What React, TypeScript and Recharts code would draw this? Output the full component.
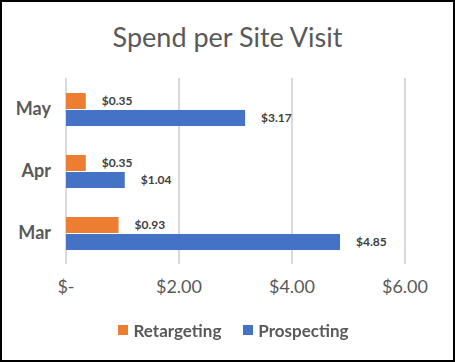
import React from 'react';
import { BarChart, Bar, XAxis, YAxis, CartesianGrid, Legend, LabelList } from 'recharts';

const months = ['May', 'Apr', 'Mar'];
const retargeting = [0.35, 0.35, 0.93];
const prospecting = [3.17, 1.04, 4.85];
const xTicks = [0, 2, 4, 6];
const seriesNames = ['Retargeting', 'Prospecting'];
const colors = ['#ED7D31', '#4472C4'];

const data = months.map((m, i) => ({ month: m, Retargeting: retargeting[i], Prospecting: prospecting[i] }));

const fmtTick = (v: number) => (v === 0 ? '$-' : `$${v.toFixed(2)}`);
const fmtLabel = (v: any) => `$${Number(v).toFixed(2)}`;

const FONT = 'Lato, "Open Sans", sans-serif';

const LegendContent = () => (
  <div style={{ width: 467, display: 'flex', justifyContent: 'center', alignItems: 'center', fontFamily: FONT, fontWeight: 700, fontSize: 17, color: '#595959', height: 30 }}>
    {seriesNames.map((n, i) => (
      <div key={n} style={{ display: 'flex', alignItems: 'center', marginRight: i === 0 ? 22 : 0 }}>
        <div style={{ width: 10, height: 10, background: colors[i], marginRight: 5 }} />
        <span>{n}</span>
      </div>
    ))}
  </div>
);

export default function App() {
  return (
    <div style={{ position: 'fixed', left: 0, top: 0, width: 455, height: 362, boxSizing: 'border-box', border: '2px solid #000', background: '#fff' }}>
      <div style={{ position: 'absolute', left: 0, top: 18, width: 451, textAlign: 'center', fontFamily: FONT, fontSize: 27, color: '#595959' }}>
        Spend per Site Visit
      </div>
      <div style={{ position: 'absolute', left: -2, top: -2 }}>
        <BarChart
          width={455}
          height={362}
          data={data}
          layout="vertical"
          margin={{ top: 78, right: 50, bottom: 17, left: 0 }}
          barGap={1}
          barSize={16}
        >
          <CartesianGrid horizontal={false} stroke="#D9D9D9" strokeWidth={2} />
          <XAxis
            type="number"
            domain={[0, 6]}
            ticks={xTicks}
            tickFormatter={fmtTick}
            axisLine={false}
            tickLine={false}
            tickSize={0}
            tickMargin={16}
            height={51}
            tick={{ fill: '#595959', fontSize: 18, fontFamily: FONT }}
          />
          <YAxis
            type="category"
            dataKey="month"
            width={66}
            axisLine={false}
            tickLine={false}
            tickSize={0}
            tickMargin={15}
            tick={{ fill: '#595959', fontSize: 18, fontWeight: 700, fontFamily: FONT }}
          />
          <Legend verticalAlign="bottom" height={30} content={<LegendContent />} />
          <Bar dataKey="Retargeting" fill={colors[0]} isAnimationActive={false}>
            <LabelList dataKey="Retargeting" position="right" offset={16} formatter={fmtLabel} style={{ fill: '#404040', fontSize: 12, fontWeight: 700, fontFamily: FONT }} />
          </Bar>
          <Bar dataKey="Prospecting" fill={colors[1]} isAnimationActive={false}>
            <LabelList dataKey="Prospecting" position="right" offset={16} formatter={fmtLabel} style={{ fill: '#404040', fontSize: 12, fontWeight: 700, fontFamily: FONT }} />
          </Bar>
        </BarChart>
      </div>
    </div>
  );
}
